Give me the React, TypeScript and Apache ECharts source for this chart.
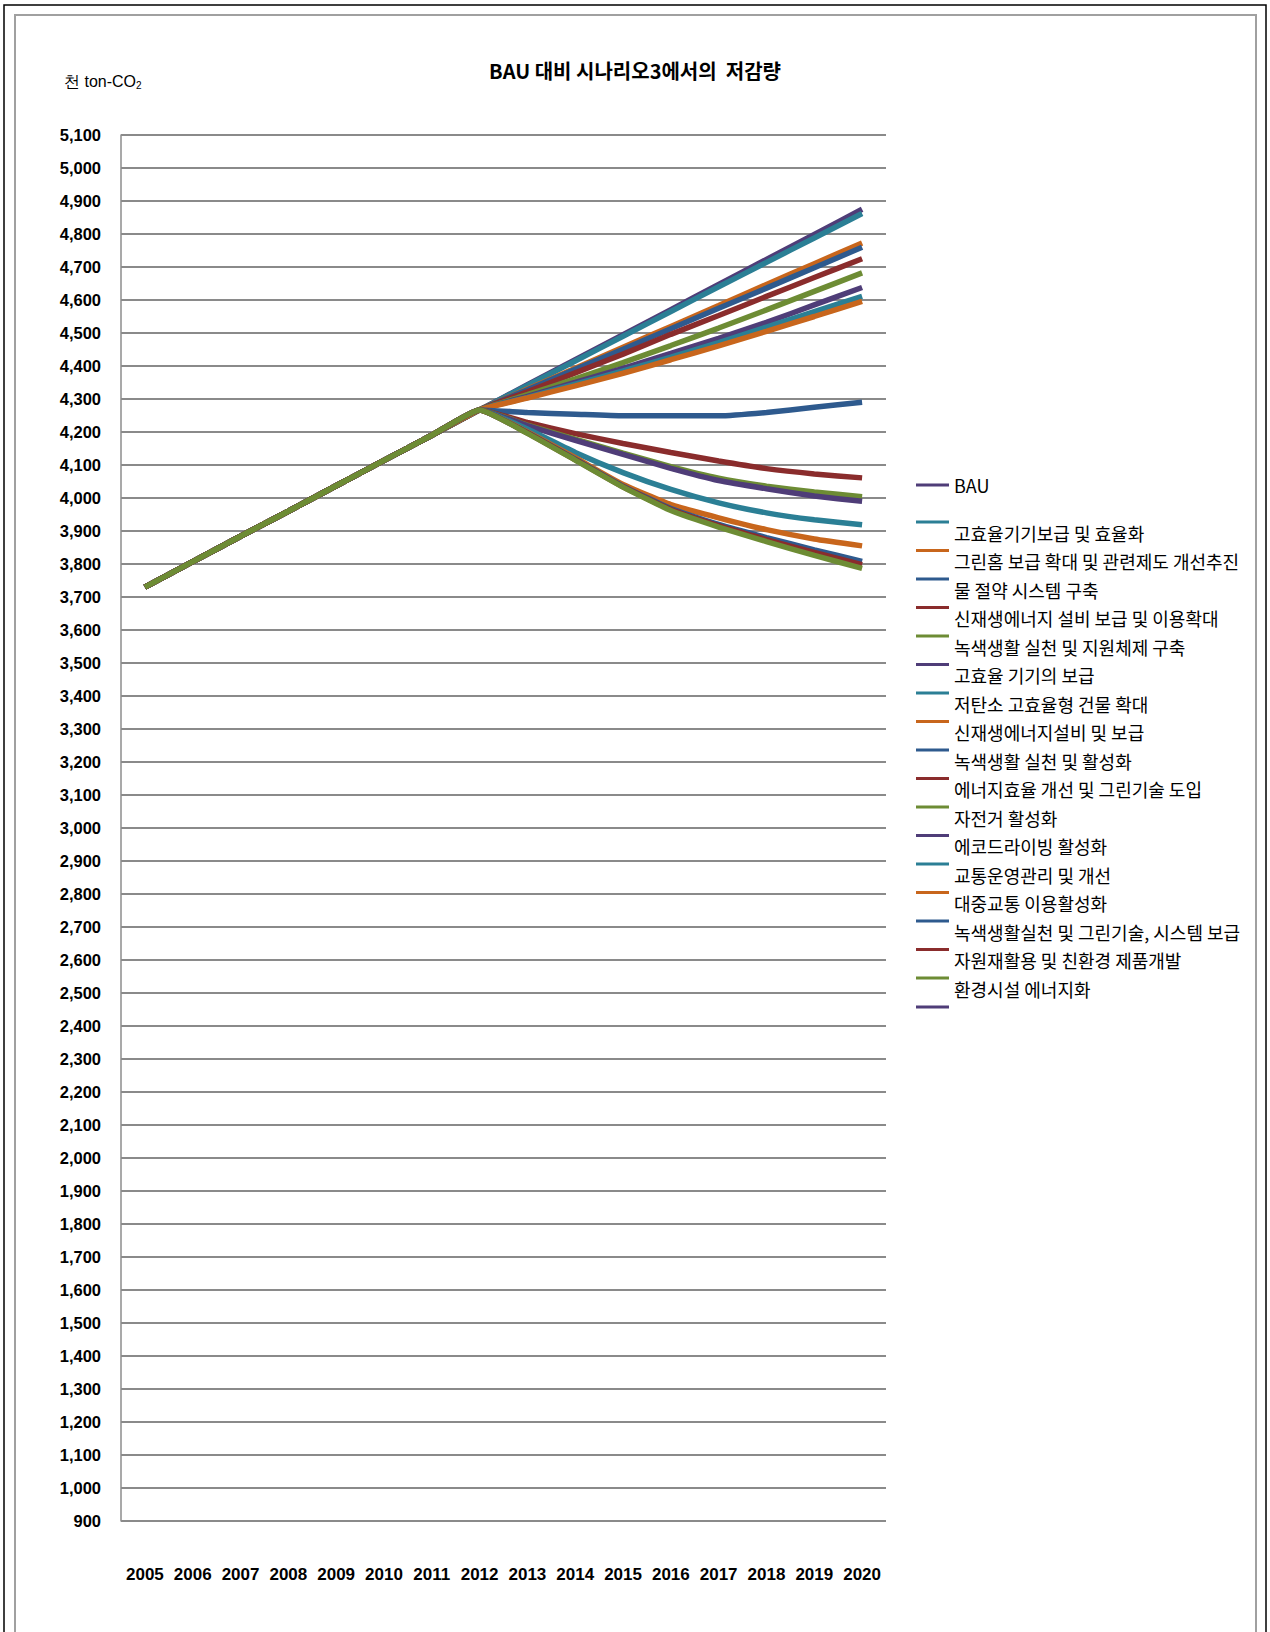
import React, { useEffect, useRef } from "react";
import * as echarts from "echarts";

const years = ["2005", "2006", "2007", "2008", "2009", "2010", "2011", "2012", "2013", "2014", "2015", "2016", "2017", "2018", "2019", "2020"];

// shared history 2005-2012 (all scenarios identical)
const history = [3730, 3807, 3884, 3960, 4037, 4114, 4190, 4267];

const seriesNames = [
  "BAU",
  "고효율기기보급 및 효율화",
  "그린홈 보급 확대 및 관련제도 개선추진",
  "물 절약 시스템 구축",
  "신재생에너지 설비 보급 및 이용확대",
  "녹색생활 실천 및 지원체제 구축",
  "고효율 기기의 보급",
  "저탄소 고효율형 건물 확대",
  "신재생에너지설비 및 보급",
  "녹색생활 실천 및 활성화",
  "에너지효율 개선 및 그린기술 도입",
  "자전거 활성화",
  "에코드라이빙 활성화",
  "교통운영관리 및 개선",
  "대중교통 이용활성화",
  "녹색생활실천 및 그린기술, 시스템 보급",
  "자원재활용 및 친환경 제품개발",
  "환경시설 에너지화",
];

const PURPLE = "#4f3d78";
const TEAL = "#2b7f95";
const ORANGE = "#c8661c";
const BLUE = "#2e5a8e";
const RED = "#8a2c2c";
const GREEN = "#6d8c34";

const seriesColors = [
  PURPLE, TEAL, ORANGE, BLUE, RED, GREEN, PURPLE, TEAL, ORANGE,
  BLUE, RED, GREEN, PURPLE, TEAL, ORANGE, BLUE, RED, GREEN,
];

// values 2013-2020 for each series
const bau = [4343, 4419, 4495, 4571, 4647, 4723, 4799, 4875];
const s01 = [4341, 4415, 4490, 4565, 4640, 4714, 4788, 4862];
const s02 = [4330, 4393, 4457, 4520, 4583, 4647, 4710, 4773];
const s03 = [4328, 4390, 4451, 4513, 4575, 4636, 4698, 4760];
const s04 = [4322, 4379, 4436, 4496, 4553, 4611, 4668, 4725];
const s05 = [4313, 4361, 4410, 4462, 4515, 4570, 4626, 4682];
const s06 = [4308, 4350, 4393, 4438, 4484, 4532, 4585, 4638];
const s07 = [4305, 4345, 4385, 4427, 4471, 4518, 4565, 4611];
const s08 = [4303, 4340, 4378, 4419, 4461, 4505, 4550, 4596];
const s09 = [4259, 4254, 4249, 4249, 4249, 4259, 4275, 4290];
const s10 = [4229, 4195, 4165, 4138, 4112, 4089, 4073, 4061];
const s11 = [4221, 4178, 4136, 4095, 4060, 4036, 4018, 4004];
const s12 = [4219, 4175, 4132, 4090, 4053, 4028, 4006, 3990];
const s13 = [4209, 4138, 4077, 4026, 3985, 3955, 3934, 3919];
const s14 = [4200, 4122, 4041, 3980, 3940, 3904, 3876, 3855];
const s15 = [4198, 4118, 4036, 3968, 3920, 3880, 3843, 3808];
const s16 = [4197, 4116, 4034, 3965, 3916, 3874, 3835, 3798];
const s17 = [4196, 4115, 4033, 3962, 3912, 3868, 3826, 3787];

const futures = [bau, s01, s02, s03, s04, s05, s06, s07, s08, s09, s10, s11, s12, s13, s14, s15, s16, s17];

const NUM = "'Liberation Sans', Arial, sans-serif";
const KR = "'Noto Sans CJK KR', 'Noto Sans', sans-serif";

function fmt(v: number) {
  return String(v).replace(/\B(?=(\d{3})+(?!\d))/g, ",");
}

// legend icon: a 3px line at the top of a 33x24 box (text sits lower, as in the reference)
const RAISED_LINE = "path://M0,0H33V3H0Z M0,23.99H0.01V24H0Z";

export default function App() {
  const ref = useRef<HTMLDivElement>(null);
  useEffect(() => {
    if (!ref.current) return;
    const chart = echarts.init(ref.current, null, { renderer: "svg" });
    const series = seriesNames.map((name, i) => ({
      name,
      type: "line",
      data: [...history, ...futures[i]],
      smooth: 0.15,
      symbol: "none",
      showSymbol: false,
      color: seriesColors[i],
      itemStyle: { color: seriesColors[i] },
      lineStyle: { width: 5.5, color: seriesColors[i] },
      z: 2 + i,
    }));
    chart.setOption({
      animation: false,
      backgroundColor: "#ffffff",
      title: {
        text: "BAU 대비 시나리오3에서의  저감량",
        left: "center",
        top: 60,
        padding: 0,
        textStyle: { fontFamily: KR, fontSize: 20, fontWeight: "bold", color: "#000" },
      },
      grid: { left: 121, top: 135, width: 765, height: 1386, containLabel: false },
      xAxis: {
        type: "category",
        data: years,
        boundaryGap: true,
        axisLine: { show: false },
        axisTick: { show: false },
        splitLine: { show: false },
        axisLabel: { margin: 45, fontFamily: NUM, fontSize: 17, fontWeight: "bold", color: "#000", interval: 0 },
      },
      yAxis: {
        type: "value",
        min: 900,
        max: 5100,
        interval: 100,
        axisLine: { show: true, lineStyle: { color: "#8c8c8c", width: 1.5 } },
        axisTick: { show: false },
        axisLabel: { margin: 20, fontFamily: NUM, fontSize: 16.5, fontWeight: "bold", color: "#000", formatter: (v: number) => fmt(v) },
        splitLine: { show: true, lineStyle: { color: "#8a8a8a", width: 2.2 } },
      },
      legend: [
        {
          orient: "vertical",
          left: 916,
          top: 476,
          padding: 0,
          icon: "rect",
          itemWidth: 33,
          itemHeight: 3,
          data: [seriesNames[0]],
          selectedMode: false,
          textStyle: { fontFamily: KR, fontSize: 18, color: "#000" },
        },
        {
          orient: "vertical",
          left: 916,
          top: 520.5,
          padding: 0,
          icon: RAISED_LINE,
          itemGap: 4.5,
          itemWidth: 33,
          itemHeight: 24,
          data: seriesNames.slice(1),
          selectedMode: false,
          textStyle: { fontFamily: KR, fontSize: 18, color: "#000" },
        },
      ],
      graphic: [
        { type: "rect", shape: { x: 4, y: 5, width: 1262, height: 1700 }, style: { fill: "none", stroke: "#000", lineWidth: 1.5 }, silent: true },
        { type: "rect", shape: { x: 15, y: 15, width: 1241, height: 1700 }, style: { fill: "none", stroke: "#a0a0a0", lineWidth: 2 }, silent: true },
        {
          type: "text",
          x: 64,
          y: 81,
          style: {
            text: "{a|천 ton-CO}{b|2}",
            verticalAlign: "middle",
            rich: {
              a: { fontFamily: NUM, fontSize: 16, fill: "#000" },
              b: { fontFamily: NUM, fontSize: 10, fill: "#000", padding: [9, 0, 0, 0] },
            },
          },
        },
        { type: "rect", shape: { x: 916, y: 1005.5, width: 33, height: 3 }, style: { fill: PURPLE } },
      ],
      series,
    });
    return () => chart.dispose();
  }, []);
  return <div ref={ref} style={{ position: "absolute", left: 0, top: 0, width: 1270, height: 1632 }} />;
}
